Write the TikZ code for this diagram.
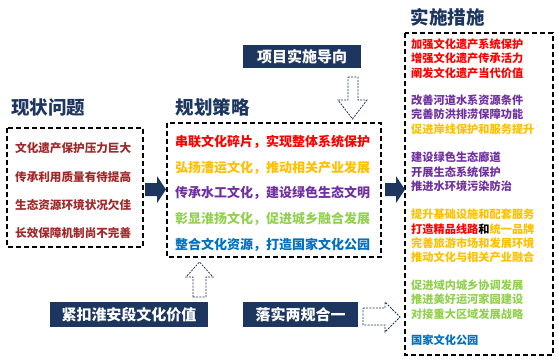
\documentclass[tikz,border=0pt]{standalone}
\usepackage{fontspec}
\setmainfont{Noto Sans CJK SC}
\definecolor{navy}{HTML}{1C3660}
\definecolor{dred}{HTML}{A0282A}
\definecolor{cred}{HTML}{FF0000}
\definecolor{cgold}{HTML}{FFC000}
\definecolor{cpurple}{HTML}{7030A0}
\definecolor{cgreen}{HTML}{92D050}
\definecolor{cblue}{HTML}{0070C0}
\tikzset{
  dbox/.style={draw=black, line width=1.4pt, dash pattern=on 5pt off 3pt},
  ttl/.style={font=\bfseries\fontsize{18.5}{18.5}\selectfont, text=navy, inner sep=0},
  lt/.style={font=\bfseries\fontsize{11.6}{12}\selectfont, anchor=west, inner sep=0, text=dred},
  mt/.style={font=\bfseries\fontsize{13}{13}\selectfont, anchor=west, inner sep=0},
  rt/.style={font=\bfseries\fontsize{11.2}{12}\selectfont, anchor=west, inner sep=0},
  navybox/.style={fill=navy, text=white, font=\bfseries\fontsize{15}{15}\selectfont, inner sep=0},
  hollow/.style={draw=navy, line width=0.8pt, dash pattern=on 2pt off 1.2pt, fill=white, line join=miter},
  solidarrow/.style={fill=navy}
}
\begin{document}
\begin{tikzpicture}[x=1pt,y=-1pt]
\useasboundingbox (0,0) rectangle (558,362);
% boxes
\draw[dbox] (7,128) rectangle (143,247);
\draw[dbox] (167,123) rectangle (381,257);
\draw[dbox] (405,33) rectangle (553,355);
% titles
\node[ttl] (t1) at (48.5,107) {现状问题};
\node[ttl] (t2) at (212.5,107) {规划策略};
\node[ttl] (t3) at (447.5,17) {实施措施};
% left lines
\node[lt] (l1) at (15,148) {文化遗产保护压力巨大};
\node[lt] (l2) at (15,177) {传承利用质量有待提高};
\node[lt] (l3) at (15,205) {生态资源环境状况欠佳};
\node[lt] (l4) at (15,233) {长效保障机制尚不完善};
% middle lines
\node[mt, text=cred] (m1) at (175,142) {串联文化碎片，实现整体系统保护};
\node[mt, text=cgold] (m2) at (175,167.5) {弘扬漕运文化，推动相关产业发展};
\node[mt, text=cpurple] (m3) at (175,193) {传承水工文化，建设绿色生态文明};
\node[mt, text=cgreen] (m4) at (175,219) {彰显淮扬文化，促进城乡融合发展};
\node[mt, text=cblue] (m5) at (175,245) {整合文化资源，打造国家文化公园};
% right lines
\node[rt, text=cred] (r1) at (411,44) {加强文化遗产系统保护};
\node[rt, text=cred] (r2) at (411,58.5) {增强文化遗产传承活力};
\node[rt, text=cred] (r3) at (411,73) {阐发文化遗产当代价值};
\node[rt, text=cpurple] (r4) at (411,100) {改善河道水系资源条件};
\node[rt, text=cpurple] (r5) at (411,114.5) {完善防洪排涝保障功能};
\node[rt, text=cgold] (r6) at (411,129) {促进岸线保护和服务提升};
\node[rt, text=cpurple] (r7) at (411,157.5) {建设绿色生态廊道};
\node[rt, text=cpurple] (r8) at (411,172) {开展生态系统保护};
\node[rt, text=cpurple] (r9) at (411,186.5) {推进水环境污染防治};
\node[rt, text=cgold] (r10) at (411,214.5) {提升基础设施和配套服务};
\node[rt] (r11) at (411,229) {\textcolor{cred}{打造精品线路}\textcolor{black}{和}\textcolor{cgold}{统一品牌}};
\node[rt, text=cgold] (r12) at (411,243) {完善旅游市场和发展环境};
\node[rt, text=cgold] (r13) at (411,257.5) {推动文化与相关产业融合};
\node[rt, text=cgreen] (r14) at (411,285) {促进域内城乡协调发展};
\node[rt, text=cgreen] (r15) at (411,299.5) {推进美好运河家园建设};
\node[rt, text=cgreen] (r16) at (411,314) {对接重大区域发展战略};
\node[rt, text=cblue] (r17) at (411,340) {国家文化公园};
% navy boxes
\node[navybox, minimum width=118pt, minimum height=23pt] (b1) at (302,56.5) {项目实施导向};
\node[navybox, minimum width=158pt, minimum height=25pt] (b2) at (129,314.5) {紧扣淮安段文化价值};
\node[navybox, minimum width=115pt, minimum height=25pt] (b3) at (300.5,314.5) {落实两规合一};
% solid arrows
\fill[solidarrow] (145,183) -- (157,183) -- (157,176) -- (166,189.5) -- (157,203) -- (157,196) -- (145,196) -- cycle;
\fill[solidarrow] (385,183) -- (396,183) -- (396,176) -- (405,189.5) -- (396,203) -- (396,196) -- (385,196) -- cycle;
% hollow arrows
\draw[hollow] (348,77) -- (358,77) -- (358,100) -- (367,100) -- (352.5,119) -- (338,100) -- (348,100) -- cycle;
\draw[hollow] (193,297) -- (206,297) -- (206,277) -- (213,277) -- (199.5,262) -- (186,277) -- (193,277) -- cycle;
\draw[hollow] (363,308) -- (385,308) -- (385,302) -- (400,317) -- (385,332) -- (385,325) -- (363,325) -- cycle;
\end{tikzpicture}
\end{document}
